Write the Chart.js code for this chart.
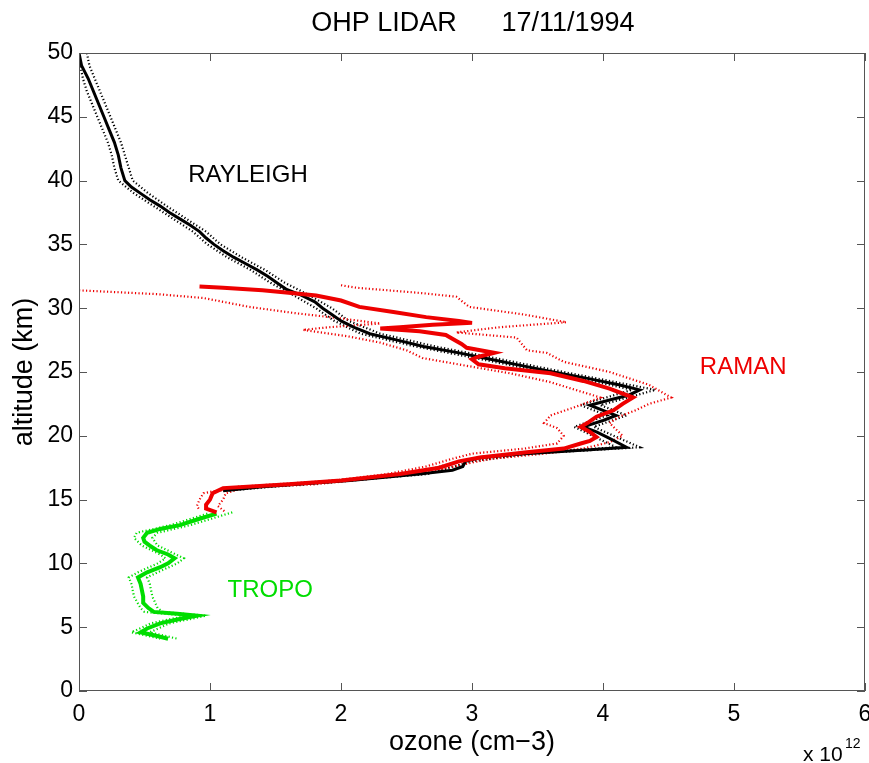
<!DOCTYPE html>
<html>
<head>
<meta charset="utf-8">
<script src="https://cdn.jsdelivr.net/npm/chart.js@4"></script>
<style>
  html, body { margin: 0; padding: 0; background: #fff; }
  canvas { display: block; }
</style>
</head>
<body>
<canvas id="chart" width="869" height="763"></canvas>
<script>
// ozone number density in units of 1e12 cm-3, altitude in km
const rayleighAlt = [50.0, 49.0, 48.0, 47.0, 46.0, 45.0, 44.0, 43.0, 42.0, 41.0, 40.0, 39.5, 39.0, 38.5, 38.0, 37.5, 37.0, 36.5, 36.0, 35.5, 35.0, 34.5, 34.0, 33.5, 33.0, 32.5, 32.0, 31.5, 31.0, 30.5, 30.0, 29.5, 29.0, 28.5, 28.0, 27.5, 27.0, 26.5, 26.0, 25.5, 25.0, 24.5, 24.0, 23.6, 23.2, 22.8, 22.4, 22.0, 21.6, 21.2, 20.7, 20.3, 19.8, 19.1, 18.9, 18.6, 18.3, 18.0, 17.6, 17.3, 17.0, 16.5, 16.0, 15.7];
const rayleighO3 = [0.00, 0.02, 0.07, 0.11, 0.15, 0.19, 0.23, 0.27, 0.30, 0.32, 0.35, 0.40, 0.47, 0.54, 0.62, 0.69, 0.77, 0.85, 0.92, 0.97, 1.03, 1.10, 1.18, 1.27, 1.36, 1.44, 1.51, 1.58, 1.70, 1.80, 1.86, 1.93, 2.00, 2.10, 2.22, 2.43, 2.63, 2.90, 3.14, 3.38, 3.62, 3.88, 4.12, 4.28, 4.20, 4.05, 3.90, 4.00, 4.10, 4.00, 3.85, 3.95, 4.05, 4.18, 3.90, 3.40, 3.06, 2.95, 2.93, 2.85, 2.60, 2.07, 1.40, 1.10];

const rayleighLoAlt = [49.5, 48.0, 47.0, 46.0, 45.0, 44.0, 43.0, 42.0, 41.0, 40.0, 39.0, 38.0, 37.0, 36.0, 35.0, 34.0, 33.0, 32.0, 31.0, 30.0, 29.0, 28.0, 27.0, 26.0, 25.0, 24.0, 23.6, 22.4, 21.6, 20.7, 19.1, 18.6, 18.0, 17.0, 16.0, 15.7];
const rayleighLoO3 = [0.00, 0.03, 0.06, 0.10, 0.14, 0.18, 0.22, 0.25, 0.27, 0.30, 0.42, 0.57, 0.72, 0.87, 0.98, 1.13, 1.31, 1.46, 1.64, 1.81, 1.95, 2.15, 2.57, 3.07, 3.55, 4.05, 4.22, 3.83, 4.03, 3.78, 4.10, 3.35, 2.90, 2.55, 1.35, 1.08];
const rayleighHiAlt = [50.0, 49.0, 48.0, 47.0, 46.0, 45.0, 44.0, 43.0, 42.0, 41.0, 40.0, 39.0, 38.0, 37.0, 36.0, 35.0, 34.0, 33.0, 32.0, 31.0, 30.0, 29.0, 28.0, 27.0, 26.0, 25.0, 24.0, 23.6, 22.4, 21.6, 20.7, 19.1, 18.6, 18.0, 17.0, 16.0, 15.7];
const rayleighHiO3 = [0.06, 0.08, 0.12, 0.16, 0.20, 0.24, 0.28, 0.32, 0.35, 0.38, 0.41, 0.53, 0.67, 0.82, 0.97, 1.08, 1.24, 1.42, 1.57, 1.76, 1.93, 2.06, 2.30, 2.72, 3.22, 3.70, 4.20, 4.40, 3.98, 4.18, 3.93, 4.28, 3.45, 3.00, 2.66, 1.46, 1.14];

const ramanAlt = [31.7, 31.6, 31.4, 31.2, 31.0, 30.6, 30.1, 29.7, 29.3, 29.0, 28.85, 28.7, 28.5, 28.4, 28.2, 27.9, 27.6, 27.2, 26.9, 26.5, 26.2, 26.0, 25.6, 25.3, 24.9, 24.3, 23.7, 23.0, 22.5, 22.0, 21.5, 21.0, 20.7, 20.3, 19.9, 19.6, 19.4, 19.0, 18.7, 18.3, 18.0, 17.5, 17.0, 16.5, 16.2, 15.9, 15.5, 15.0, 14.6, 14.3, 14.0];
const ramanO3 = [0.92, 1.10, 1.40, 1.62, 1.81, 2.00, 2.14, 2.40, 2.65, 2.90, 3.00, 2.70, 2.45, 2.30, 2.60, 2.80, 2.85, 2.92, 2.96, 3.17, 3.05, 3.00, 3.05, 3.25, 3.60, 3.85, 4.05, 4.23, 4.15, 4.08, 3.95, 3.88, 3.83, 3.90, 3.95, 3.90, 3.83, 3.70, 3.40, 3.06, 2.90, 2.75, 2.45, 2.00, 1.60, 1.10, 1.02, 1.00, 0.97, 0.97, 1.05];

const ramanLoAlt = [31.4, 31.1, 30.8, 30.5, 30.1, 29.6, 29.2, 28.8, 28.5, 28.3, 27.8, 27.3, 26.7, 26.1, 25.5, 24.9, 24.2, 23.0, 22.3, 21.6, 21.0, 20.6, 20.0, 19.4, 19.0, 18.6, 18.2, 17.6, 17.0, 16.5, 16.0, 15.5, 15.0, 14.5, 14.2];
const ramanLoO3 = [0.00, 0.60, 0.95, 1.10, 1.30, 1.66, 2.00, 2.30, 1.90, 1.71, 2.05, 2.30, 2.50, 2.62, 2.95, 3.29, 3.60, 3.98, 3.80, 3.60, 3.55, 3.65, 3.70, 3.65, 3.40, 3.00, 2.85, 2.65, 2.35, 1.95, 1.20, 0.95, 0.92, 0.90, 0.92];
const ramanHiAlt = [31.8, 31.6, 31.2, 30.9, 30.1, 29.5, 28.9, 28.5, 28.1, 27.7, 26.7, 26.5, 25.8, 25.0, 24.0, 23.0, 22.5, 22.0, 21.5, 21.0, 20.5, 20.0, 19.5, 19.0, 18.6, 18.2, 17.8, 17.2, 16.6, 16.2, 15.9, 15.5, 15.0, 14.5, 14.0];
const ramanHiO3 = [2.00, 2.12, 2.60, 2.88, 2.98, 3.40, 3.72, 3.20, 2.88, 3.34, 3.42, 3.57, 3.70, 4.05, 4.35, 4.52, 4.35, 4.25, 4.12, 4.05, 4.10, 4.15, 4.05, 3.85, 3.55, 3.15, 2.95, 2.70, 2.20, 1.80, 1.25, 1.12, 1.10, 1.06, 1.12];

const tropoAlt = [13.9, 13.5, 13.0, 12.7, 12.4, 12.0, 11.7, 11.4, 11.05, 10.7, 10.4, 10.0, 9.7, 9.3, 8.9, 8.4, 7.9, 7.4, 6.9, 6.5, 6.2, 6.05, 5.9, 5.6, 5.3, 4.9, 4.6, 4.35, 4.1];
const tropoO3 = [1.05, 0.92, 0.77, 0.62, 0.52, 0.49, 0.50, 0.54, 0.59, 0.68, 0.73, 0.68, 0.62, 0.52, 0.45, 0.47, 0.48, 0.49, 0.49, 0.53, 0.57, 0.75, 0.90, 0.75, 0.62, 0.52, 0.47, 0.58, 0.68];

const tropoLoAlt = [13.9, 13.0, 12.4, 12.0, 11.4, 10.7, 10.4, 10.0, 9.3, 8.9, 8.4, 7.4, 6.5, 6.2, 5.9, 5.3, 4.6, 4.1];
const tropoLoO3 = [0.98, 0.70, 0.44, 0.42, 0.48, 0.62, 0.66, 0.60, 0.45, 0.38, 0.40, 0.42, 0.47, 0.50, 0.82, 0.55, 0.40, 0.62];
const tropoHiAlt = [14.0, 13.0, 12.4, 12.0, 11.4, 10.7, 10.4, 10.0, 9.3, 8.9, 8.4, 7.4, 6.5, 6.2, 5.9, 5.3, 4.6, 4.1];
const tropoHiO3 = [1.17, 0.85, 0.60, 0.56, 0.60, 0.74, 0.80, 0.75, 0.60, 0.52, 0.54, 0.56, 0.60, 0.64, 0.97, 0.69, 0.54, 0.75];

const xTickValues = [0, 1, 2, 3, 4, 5, 6];
const yTickValues = [0, 5, 10, 15, 20, 25, 30, 35, 40, 45, 50];

const titleParts = ['OHP LIDAR', '17/11/1994'];
const curveLabels = ['RAYLEIGH', 'RAMAN', 'TROPO'];
const labelAnchors = [[1.29, 40.4], [5.07, 25.4], [1.46, 7.9]];

const FONT = '"Liberation Sans", Arial, Helvetica, sans-serif';
const BLACK = '#000000';
const RED = '#ee0000';
const GREEN = '#00dd00';

const pts = (alt, o3) => o3.map((v, i) => ({ x: v, y: alt[i] }));

function solid(data, color, width) {
    return { data, borderColor: color, borderWidth: width, showLine: true, pointRadius: 0, fill: false, tension: 0 };
}
function dotted(data, color) {
    return { data, borderColor: color, borderWidth: 2.2, borderDash: [1.2, 2.3], showLine: true, pointRadius: 0, fill: false, tension: 0 };
}

const frame = {
    id: 'frame',
    afterDraw(chart) {
        const { ctx, chartArea: a, scales: { x, y } } = chart;
        ctx.save();
        ctx.strokeStyle = '#555';
        ctx.lineWidth = 1;
        ctx.strokeRect(a.left + 0.5, a.top + 0.5, a.width - 1, a.height - 1);
        ctx.beginPath();
        xTickValues.forEach(v => {
            const px = Math.round(x.getPixelForValue(v)) + 0.5;
            ctx.moveTo(px, a.bottom); ctx.lineTo(px, a.bottom - 8);
            ctx.moveTo(px, a.top); ctx.lineTo(px, a.top + 8);
        });
        yTickValues.forEach(v => {
            const py = Math.round(y.getPixelForValue(v)) + 0.5;
            ctx.moveTo(a.left, py); ctx.lineTo(a.left + 8, py);
            ctx.moveTo(a.right, py); ctx.lineTo(a.right - 8, py);
        });
        ctx.stroke();

        // curve names
        ctx.font = '24px ' + FONT;
        ctx.textAlign = 'center';
        ctx.textBaseline = 'middle';
        const colors = [BLACK, RED, GREEN];
        curveLabels.forEach((t, i) => {
            ctx.fillStyle = colors[i];
            ctx.fillText(t, x.getPixelForValue(labelAnchors[i][0]), y.getPixelForValue(labelAnchors[i][1]));
        });

        // title
        ctx.fillStyle = BLACK;
        ctx.font = '27px ' + FONT;
        ctx.fillText(titleParts[0], 384, 24);
        ctx.fillText(titleParts[1], 568, 24);

        // exponent
        ctx.textAlign = 'left';
        ctx.textBaseline = 'alphabetic';
        ctx.font = '21px ' + FONT;
        ctx.fillText('x 10', 803, 761);
        ctx.font = '14px ' + FONT;
        ctx.fillText('12', 845, 748);
        ctx.restore();
    }
};

new Chart(document.getElementById('chart'), {
    type: 'scatter',
    data: {
        datasets: [
            solid(pts(ramanAlt, ramanO3), RED, 4),
            solid(pts(rayleighAlt, rayleighO3), BLACK, 3),
            solid(pts(tropoAlt, tropoO3), GREEN, 4),
            dotted(pts(ramanLoAlt, ramanLoO3), RED),
            dotted(pts(ramanHiAlt, ramanHiO3), RED),
            dotted(pts(rayleighLoAlt, rayleighLoO3), BLACK),
            dotted(pts(rayleighHiAlt, rayleighHiO3), BLACK),
            dotted(pts(tropoLoAlt, tropoLoO3), GREEN),
            dotted(pts(tropoHiAlt, tropoHiO3), GREEN)
        ]
    },
    options: {
        responsive: false,
        animation: false,
        layout: { padding: { top: 53, right: 4, left: 0, bottom: 0 } },
        plugins: {
            legend: { display: false },
            tooltip: { enabled: false },
            title: { display: false }
        },
        scales: {
            x: {
                type: 'linear',
                min: 0,
                max: 6,
                grid: { display: false, drawTicks: false },
                border: { display: false },
                ticks: { stepSize: 1, padding: 10, color: BLACK, font: { size: 23, family: FONT } },
                title: { display: true, text: 'ozone (cm\u22123)', color: BLACK, font: { size: 27, family: FONT }, padding: { top: 0, bottom: 4 } },
                afterFit(s) { s.height = 72; s.paddingLeft = 0; s.paddingRight = 0; }
            },
            y: {
                type: 'linear',
                min: 0,
                max: 50,
                grid: { display: false, drawTicks: false },
                border: { display: false },
                ticks: { stepSize: 5, padding: 6, color: BLACK, font: { size: 23, family: FONT } },
                title: { display: true, text: 'altitude (km)', color: BLACK, font: { size: 27, family: FONT }, padding: { top: 8, bottom: 0 } },
                afterFit(s) { s.width = 79; s.paddingTop = 0; s.paddingBottom = 0; }
            }
        }
    },
    plugins: [frame]
});
</script>
</body>
</html>
